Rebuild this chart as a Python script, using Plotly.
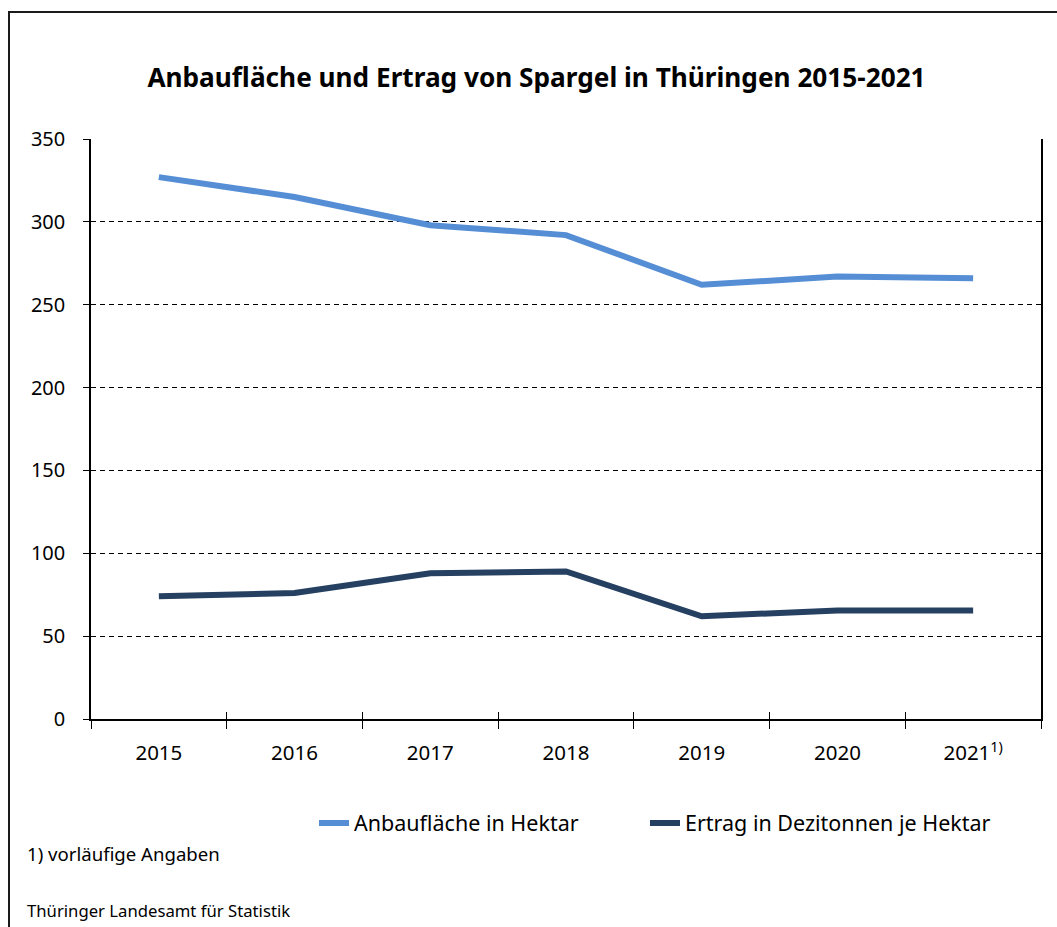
import plotly.graph_objects as go

years = ["2015", "2016", "2017", "2018", "2019", "2020", "2021"]
year_labels = ["2015", "2016", "2017", "2018", "2019", "2020", "2021<sup>1)</sup>"]
anbauflaeche = [327, 315, 298, 292, 262, 267, 266]
ertrag = [74, 76, 88, 89, 62, 65.5, 65.5]

y_ticks = [0, 50, 100, 150, 200, 250, 300, 350]

W, H = 1057, 927
L, R, T, B = 91, 16, 139, 208
pw, ph = W - L - R, H - T - B

def px(x):
    return (x - L) / pw

def py(y):
    return (H - B - y) / ph

FONT = "Noto Sans, Open Sans, sans-serif"

fig = go.Figure()
fig.add_trace(go.Scatter(x=years, y=anbauflaeche, mode="lines", name="Anbaufläche in Hektar",
                         line=dict(color="#558ED5", width=6), legend="legend"))
fig.add_trace(go.Scatter(x=years, y=ertrag, mode="lines", name="Ertrag in Dezitonnen je Hektar",
                         line=dict(color="#254061", width=6), legend="legend2"))
fig.add_trace(go.Scatter(x=years, y=[None]*len(years), xaxis="x2", showlegend=False, hoverinfo="skip"))

legend_style = dict(orientation="h", yanchor="middle", y=py(823), xanchor="left",
                    font=dict(size=21.5, family=FONT), bgcolor="rgba(0,0,0,0)")

fig.update_layout(
    width=W, height=H,
    margin=dict(l=L, r=R, t=T, b=B, autoexpand=False),
    paper_bgcolor="white", plot_bgcolor="white",
    font=dict(family=FONT, color="black", size=20),
    title=dict(text="<b>Anbaufläche und Ertrag von Spargel in Thüringen 2015-2021</b>",
               x=536.5 / W, xref="container", xanchor="center", y=1 - 78 / H, yanchor="middle",
               font=dict(size=26.2, family=FONT)),
    xaxis=dict(type="category", categoryorder="array", categoryarray=years,
               tickmode="array", tickvals=years, ticktext=year_labels,
               tickson="boundaries", ticks="outside", ticklen=8, tickcolor="black", tickwidth=1,
               showline=True, linecolor="black", linewidth=1.5, showgrid=False,
               range=[-0.5, 6.5], tickfont=dict(size=20.5), zeroline=False,
               ticklabelstandoff=15),
    xaxis2=dict(type="category", categoryorder="array", categoryarray=years,
                overlaying="x", matches="x", tickson="boundaries", ticks="inside", ticklen=7,
                tickcolor="black", tickwidth=1, showticklabels=False, showline=False,
                showgrid=False, side="bottom", anchor="y", zeroline=False),
    yaxis=dict(range=[0, 350], tickmode="array", tickvals=y_ticks,
               ticks="outside", ticklen=6, tickcolor="black",
               showline=True, linecolor="black", linewidth=1.5, mirror=True,
               showgrid=True, gridcolor="black", griddash="5px,4px", gridwidth=1,
               zeroline=False, tickfont=dict(size=20), ticklabelstandoff=14),
    legend=dict(legend_style, x=px(314)),
    legend2=dict(legend_style, x=px(645)),
    showlegend=True,
)

fig.add_annotation(text="1) vorläufige Angaben", xref="paper", yref="paper",
                   x=px(25), y=py(853), xanchor="left", yanchor="middle", showarrow=False,
                   font=dict(size=18.6, family=FONT))
fig.add_annotation(text="Thüringer Landesamt für Statistik", xref="paper", yref="paper",
                   x=px(25), y=py(910), xanchor="left", yanchor="middle", showarrow=False,
                   font=dict(size=16.7, family=FONT))

fig.add_shape(type="rect", xref="paper", yref="paper",
              x0=px(9), x1=px(1058), y0=py(H + 5), y1=py(12),
              line=dict(color="#1a1a1a", width=2), fillcolor="rgba(0,0,0,0)", layer="below")

fig.write_html("out.html", config={"displayModeBar": False},
               post_script="document.body.style.margin='0';")
